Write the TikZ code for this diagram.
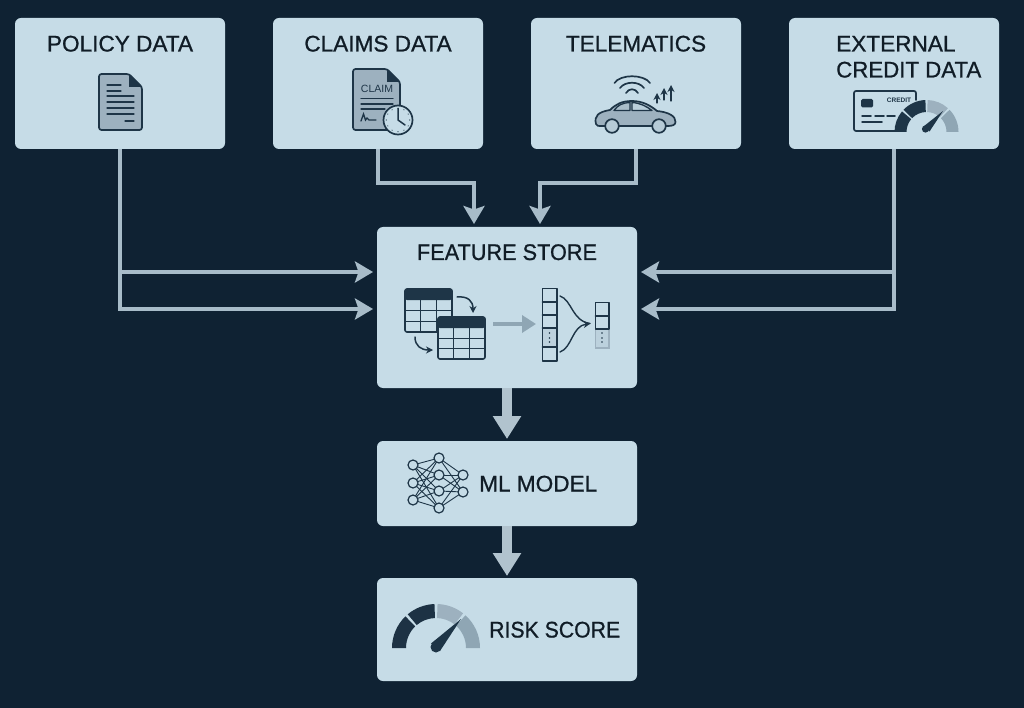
\documentclass[tikz,border=0pt]{standalone}
\usepackage{fontspec}
\usepackage{graphicx}
\setmainfont{Liberation Sans}
\newfontfamily\ttlfont[FakeBold=0.8]{Liberation Sans}
\usetikzlibrary{arrows.meta,calc}
\definecolor{bg}{HTML}{0F2233}
\definecolor{boxc}{HTML}{C6DCE7}
\definecolor{linec}{HTML}{A8BCC9}
\definecolor{ink}{HTML}{1E3547}
\definecolor{txt}{HTML}{101C26}
\definecolor{midg}{HTML}{9DB1BF}
\definecolor{lightg}{HTML}{8FA6B4}
\definecolor{gl2}{HTML}{A4B8C4}
\tikzset{
  x=1pt,y=-1pt,
  box/.style={fill=boxc,rounded corners=6pt,inner sep=0pt,minimum width=#1},
  box/.default=210pt,
  title/.style={inner sep=0pt,text=txt,font=\ttlfont\fontsize{22.6}{26}\selectfont,anchor=base},
  titlel/.style={title,anchor=base west},
  conn/.style={draw=linec,line width=3.8pt,-{Stealth[width=21pt,length=18pt,inset=3.5pt,fill=linec]}},
  bigconn/.style={draw=linec!90!white,line width=10pt,-{Triangle[width=27pt,length=23pt]}},
  ic/.style={draw=ink,line width=1.7pt,line join=round,line cap=round},
  icthin/.style={draw=ink,line width=1.3pt,line cap=round},
  tabl/.style={draw=ink,line width=1.6pt,line cap=butt},
  tip/.style={-{Stealth[width=7pt,length=7pt]}},
  nn/.style={circle,draw=ink,line width=1.2pt,fill=boxc,minimum size=10pt,inner sep=0pt},
}
\newcommand{\gseg}[6]{% center, a, b, ro, ri, colour
  \begin{scope}[shift={(#1)},x=1pt,y=1pt]
  \fill[#6] (#2:#4) arc[start angle=#2,end angle=#3,radius=#4pt] -- (#3:#5) arc[start angle=#3,end angle=#2,radius=#5pt] -- cycle;
  \end{scope}}
\begin{document}
\begin{tikzpicture}
\useasboundingbox[fill=bg] (0,0) rectangle (1024,708);
% boxes
\node[box,minimum height=131pt] (policy) at (120,83.5) {};
\node[box,minimum height=131pt] (claims) at (378,83.5) {};
\node[box,minimum height=131pt] (telem) at (636,83.5) {};
\node[box,minimum height=131pt] (ext) at (894,83.5) {};
\node[box=260pt,minimum height=161pt] (fs) at (507,307.5) {};
\node[box=260pt,minimum height=85pt] (ml) at (507,483.5) {};
\node[box=260pt,minimum height=103pt] (risk) at (507,629.5) {};
% junctions
\coordinate (la) at (373,272);
\coordinate (lb) at (373,309);
\coordinate (ra) at (641,272);
\coordinate (rb) at (641,309);
\coordinate (ta) at (474,224);
\coordinate (tb) at (540,224);
\coordinate (ca) at (474,183);
\coordinate (cb) at (540,183);
\coordinate (mlt) at (507,439);
\coordinate (rt) at (507,576);
% connectors
\draw[conn] (policy.south) |- (la);
\draw[conn] (policy.south) |- (lb);
\draw[conn] (ext.south) |- (ra);
\draw[conn] (ext.south) |- (rb);
\draw[conn] (claims.south) |- (ca) -- (ta);
\draw[conn] (telem.south) |- (cb) -- (tb);
\draw[bigconn] (fs.south) -- (mlt);
\draw[bigconn] (ml.south) -- (rt);
% titles
\node[title] (t1) at (120,51.5) {POLICY DATA};
\node[title] (t2) at (378,51.5) {CLAIMS DATA};
\node[title] (t3) at (636,51.5) {TELEMATICS};
\node[titlel] (t4a) at (836,51.5) {EXTERNAL};
\node[titlel] (t4b) at (836,77.5) {\scalebox{.985}[1]{CREDIT DATA}};
\node[title] (t5) at (507,260) {\scalebox{.96}[1]{FEATURE STORE}};
\node[titlel] (t6) at (479,491.5) {ML MODEL};
\node[titlel] (t7) at (489,637.5) {\scalebox{.94}[1]{RISK SCORE}};
% policy doc icon
\draw[ic,fill=midg,rounded corners=2.5pt] (99,74) -- (129,74) -- (142,87) -- (142,130) -- (99,130) -- cycle;
\fill[ink] (129,74) -- (142,87) -- (129,87) -- cycle;
\foreach \yy/\xa/\xb in {85/107/121,91/107/121,96/107/134,102/107/134,108/107/134,114/107/134,121/125/134}
  \draw[icthin] (\xa,\yy) -- (\xb,\yy);
% claims doc icon
\draw[ic,fill=midg,rounded corners=2.5pt] (353,69) -- (387,69) -- (400,82) -- (400,130) -- (353,130) -- cycle;
\fill[ink] (387,69) -- (400,82) -- (387,82) -- cycle;
\node[inner sep=0pt,text=ink,font=\fontsize{10.5}{12}\selectfont] (claimtxt) at (377,89) {CLAIM};
\foreach \yy/\xb in {98.5/393,104/393,109/385}
  \draw[icthin] (361,\yy) -- (\xb,\yy);
\draw[icthin] (361,121) -- (363.5,114) -- (365.5,120) -- (367,118) -- (369,120) -- (376,120);
\draw[ic,fill=boxc] (398,120) circle[radius=14.5];
\foreach \a in {0,30,...,330} \fill[ink] ($(398,120)+(\a:11.8)$) circle[radius=.6];
\draw[icthin,line width=1.5pt] (398,108.5) -- (398,120) -- (405,125);
% car icon
\draw[ic,fill=midg] (596,124) .. controls (594,116) and (598,112) .. (610,110) .. controls (616,104) and (622,101) .. (632,101) .. controls (642,101) and (650,105) .. (657,111) .. controls (668,112) and (676,116) .. (675.5,122) .. controls (675.5,125) and (672,126) .. (668,126) -- (602,126) .. controls (598,126) and (596.5,126) .. (596,124) -- cycle;
\draw[ic,line width=1.3pt,fill=gl2!85!boxc] (614,110.5) .. controls (618,105) and (622,103) .. (630,102.5) -- (630,110.5) -- cycle;
\draw[ic,line width=1.3pt,fill=boxc!70!midg] (632,102.5) .. controls (640,103) and (646,106) .. (652,110.5) -- (632,110.5) -- cycle;
\draw[ic,fill=boxc!60!midg] (612,126) circle[radius=6.8];
\draw[ic,fill=boxc!60!midg] (659,126) circle[radius=6.8];
\draw[ic] (614.5,83) .. controls (620,74) and (644,74) .. (650,83);
\draw[ic] (620,88) .. controls (625,81) and (639,81) .. (644,88);
\draw[ic] (626,93) .. controls (629,88) and (635,88) .. (638,93);
\foreach \xx/\ya/\yb in {657/103/93,664/100/88,671/101/85}
  \draw[icthin,tip] (\xx,\ya) -- (\xx,\yb);
% credit icon
\draw[ic,rounded corners=2pt] (916,100) -- (916,91) -- (854,91) -- (854,131) -- (900,131);
\fill[ink,rounded corners=1.5pt] (861,99) rectangle (873,107.5);
\node[inner sep=0pt,text=ink,font=\bfseries\fontsize{6.5}{8}\selectfont] (crtxt) at (899,100) {CREDIT};
\draw[icthin,line width=1.5pt] (862,116) -- (871,116) (875,116) -- (884,116) (887,116) -- (895,116);
\draw[icthin,line width=1.5pt] (862,122) -- (882,122);
\coordinate (g1) at (926.5,132);
\gseg{g1}{180}{140}{32}{20}{ink}
\gseg{g1}{136}{92}{32}{20}{ink}
\gseg{g1}{88}{48}{32}{20}{midg}
\gseg{g1}{44}{0}{32}{20}{lightg}
\fill[ink] (923.5,126.5) -- (943,111) -- (929.5,131.5) -- cycle;
\fill[ink] (925.5,129) circle[radius=3.6];
% feature store tables
\foreach \xa/\ya/\xb/\yb/\yh in {405/289/452/332/300,438/317/485/359/328}{
  \fill[boxc,rounded corners=2pt] (\xa,\ya) rectangle (\xb,\yb);
  \fill[ink,rounded corners=2pt] (\xa,\ya) rectangle (\xb,\yh);
  \draw[tabl,rounded corners=2pt] (\xa,\ya) rectangle (\xb,\yb);
  \pgfmathsetmacro{\wc}{(\xb-\xa)/3}
  \pgfmathsetmacro{\hc}{(\yb-\yh)/3}
  \foreach \i in {1,2}{
    \draw[tabl] ({\xa+\i*\wc},\yh) -- ({\xa+\i*\wc},\yb);
    \draw[tabl] (\xa,{\yh+\i*\hc}) -- (\xb,{\yh+\i*\hc});
  }
}
\draw[icthin,line width=1.5pt,tip] (457,297) .. controls (468,296) and (473,301) .. (473,313);
\draw[icthin,line width=1.5pt,tip] (415,337) .. controls (415,346) and (421,350) .. (433,350);
% grey arrow
\draw[draw=lightg,line width=3.6pt,-{Triangle[width=17pt,length=14pt]}] (493,324) -- (536,324);
% columns
\draw[ic,line cap=butt] (542.5,288.5) rectangle (557,361);
\fill[boxc!75!midg] (543.3,328.7) rectangle (556.2,346.3);
\foreach \yy in {302,315,328,347} \draw[ic] (542.5,\yy) -- (557,\yy);
\foreach \yy in {333,338,342} \fill[ink] (549.5,\yy) circle[radius=.9];
\fill[boxc!75!midg] (595,329.7) rectangle (609,348);
\draw[midg,line width=1.4pt] (595.5,329) -- (595.5,348) -- (609,348) -- (609,329);
\draw[ic,line cap=butt] (595.5,302.5) rectangle (609,329);
\draw[ic] (595.5,316) -- (609,316);
\foreach \yy in {333,338,342} \fill[ink] (602,\yy) circle[radius=.9];
\draw[icthin,line width=1.4pt] (560,296) .. controls (572,300) and (572,321) .. (590,323.5);
\draw[icthin,line width=1.4pt,tip] (560,352) .. controls (572,348) and (572,326) .. (590.5,323.5);
% neural net
\foreach \n/\xx/\yy in {a1/413/465,a2/413/483,a3/413/500,b1/439/458,b2/439/475,b3/439/491,b4/439/508,c1/463/475,c2/463/492}
  \coordinate (\n) at (\xx,\yy);
\foreach \p in {a1,a2,a3} \foreach \q in {b1,b2,b3,b4} \draw[ink,line width=.9pt] (\p) -- (\q);
\foreach \p in {b1,b2,b3,b4} \foreach \q in {c1,c2} \draw[ink,line width=.9pt] (\p) -- (\q);
\foreach \n in {a1,a2,a3,b1,b2,b3,b4,c1,c2} \node[nn] (n\n) at (\n) {};
% risk gauge
\coordinate (g2) at (436,648);
\gseg{g2}{180}{134}{44}{30}{ink!95!black}
\gseg{g2}{130}{92}{44}{30}{ink!95!black}
\gseg{g2}{88}{52}{44}{30}{midg}
\gseg{g2}{48}{0}{44}{30}{lightg}
\fill[ink] (431,643.5) -- (461,619) -- (440,651) -- cycle;
\fill[ink] (436,647) circle[radius=5.5];
\end{tikzpicture}
\end{document}
